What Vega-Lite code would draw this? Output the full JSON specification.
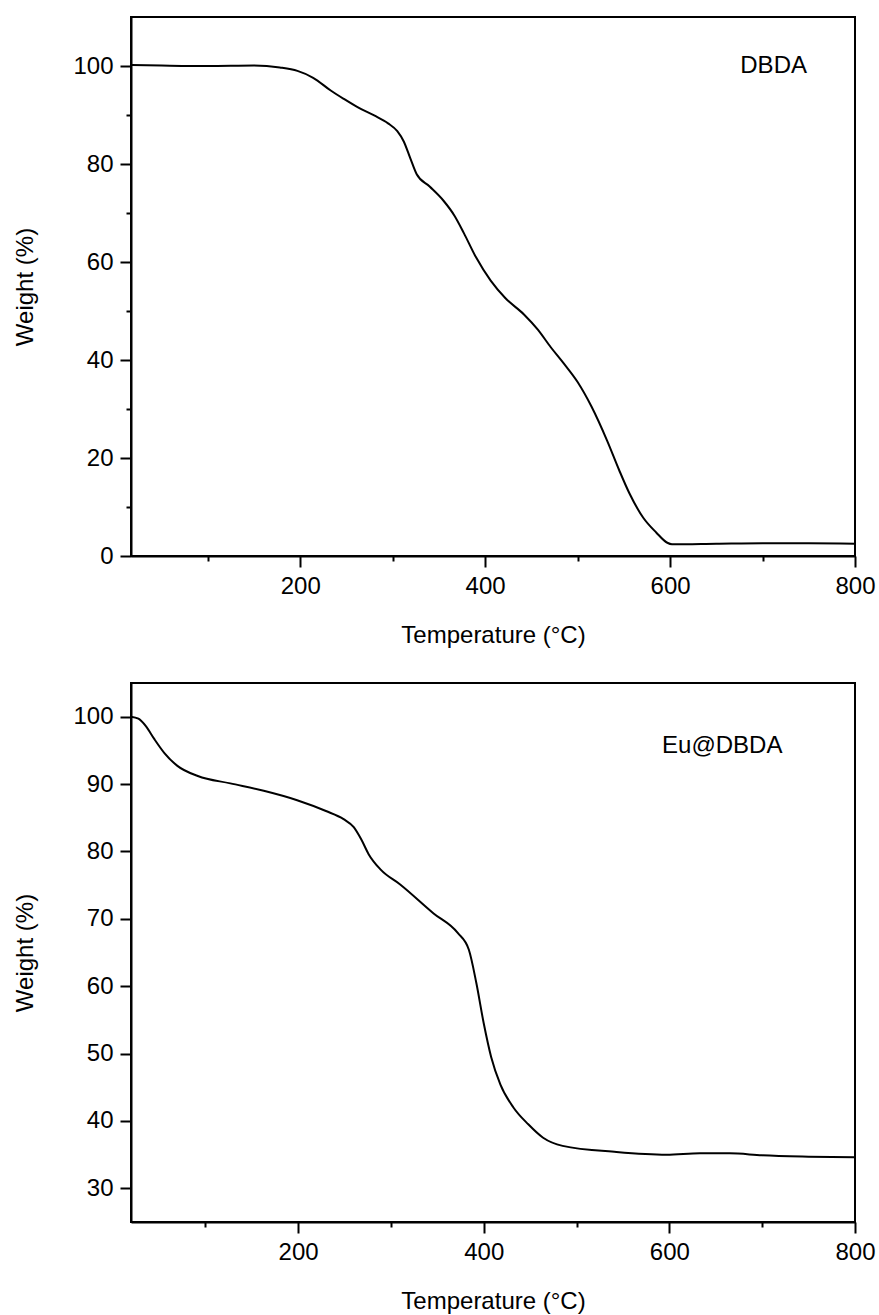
{
  "$schema": "https://vega.github.io/schema/vega-lite/v6.json",
  "padding": {"left": 12, "top": 16, "right": 5, "bottom": 0},
  "spacing": 34,
  "datasets": {
    "dbda": [
      {"T": 17, "W": 100.2}, {"T": 50, "W": 100.1}, {"T": 100, "W": 100.0}, {"T": 150, "W": 100.1},
      {"T": 178, "W": 99.7}, {"T": 197, "W": 99.0}, {"T": 214, "W": 97.6}, {"T": 233, "W": 95.0},
      {"T": 247, "W": 93.3}, {"T": 262, "W": 91.6}, {"T": 280, "W": 89.9}, {"T": 295, "W": 88.3},
      {"T": 305, "W": 86.7}, {"T": 312, "W": 84.6}, {"T": 319, "W": 81.2}, {"T": 326, "W": 77.9},
      {"T": 340, "W": 75.4}, {"T": 355, "W": 72.5}, {"T": 367, "W": 69.4}, {"T": 377, "W": 65.9},
      {"T": 390, "W": 61.0}, {"T": 406, "W": 56.2}, {"T": 422, "W": 52.6}, {"T": 442, "W": 49.3},
      {"T": 457, "W": 46.2}, {"T": 471, "W": 42.6}, {"T": 485, "W": 39.3}, {"T": 500, "W": 35.5},
      {"T": 515, "W": 30.5}, {"T": 532, "W": 23.5}, {"T": 545, "W": 17.5}, {"T": 556, "W": 12.8},
      {"T": 571, "W": 7.8}, {"T": 585, "W": 4.8}, {"T": 597, "W": 2.7}, {"T": 602, "W": 2.4},
      {"T": 650, "W": 2.5}, {"T": 700, "W": 2.6}, {"T": 750, "W": 2.6}, {"T": 800, "W": 2.5}
    ],
    "eu": [
      {"T": 20, "W": 100.0}, {"T": 28, "W": 99.7}, {"T": 36, "W": 98.6}, {"T": 45, "W": 96.7},
      {"T": 56, "W": 94.6}, {"T": 70, "W": 92.7}, {"T": 92, "W": 91.2}, {"T": 127, "W": 90.1},
      {"T": 163, "W": 89.0}, {"T": 199, "W": 87.6}, {"T": 230, "W": 86.0}, {"T": 249, "W": 84.8},
      {"T": 260, "W": 83.6}, {"T": 268, "W": 81.8}, {"T": 276, "W": 79.6}, {"T": 289, "W": 77.3},
      {"T": 310, "W": 75.1}, {"T": 346, "W": 70.8}, {"T": 372, "W": 67.9}, {"T": 384, "W": 65.4},
      {"T": 392, "W": 60.5}, {"T": 400, "W": 54.5}, {"T": 408, "W": 49.5}, {"T": 418, "W": 45.4},
      {"T": 432, "W": 42.0}, {"T": 448, "W": 39.5}, {"T": 464, "W": 37.5}, {"T": 485, "W": 36.3},
      {"T": 543, "W": 35.4}, {"T": 597, "W": 35.0}, {"T": 633, "W": 35.2}, {"T": 665, "W": 35.2},
      {"T": 700, "W": 34.9}, {"T": 750, "W": 34.7}, {"T": 800, "W": 34.6}
    ]
  },
  "vconcat": [
    {
      "width": 724,
      "height": 539,
      "layer": [
        {
          "data": {"name": "dbda"},
          "mark": {"type": "line", "color": "black", "strokeWidth": 2, "interpolate": "monotone"},
          "encoding": {
            "x": {
              "field": "T", "type": "quantitative",
              "scale": {"domain": [17, 800], "nice": false, "zero": false},
              "axis": {
                "title": "Temperature (°C)",
                "values": [100, 200, 300, 400, 500, 600, 700, 800],
                "labelExpr": "datum.value % 200 === 0 ? datum.label : ''",
                "tickSize": {"condition": {"test": "datum.value % 200 === 0", "value": 11}, "value": 5},
                "labelPadding": 7, "titlePadding": 25, "labelFlush": false, "labelOverlap": false
              }
            },
            "y": {
              "field": "W", "type": "quantitative",
              "scale": {"domain": [0, 110], "nice": false, "zero": false},
              "axis": {
                "title": "Weight (%)",
                "values": [0, 10, 20, 30, 40, 50, 60, 70, 80, 90, 100],
                "labelExpr": "datum.value % 20 === 0 ? datum.label : ''",
                "tickSize": {"condition": {"test": "datum.value % 20 === 0", "value": 11}, "value": 5},
                "labelPadding": 7, "titlePadding": 35, "labelOverlap": false
              }
            }
          }
        },
        {
          "data": {"values": [{"label": "DBDA"}]},
          "mark": {"type": "text", "fontSize": 24, "font": "Liberation Sans", "align": "center", "baseline": "alphabetic", "color": "black"},
          "encoding": {
            "x": {"datum": 712, "type": "quantitative"},
            "y": {"datum": 98.6, "type": "quantitative"},
            "text": {"field": "label"}
          }
        }
      ]
    },
    {
      "width": 724,
      "height": 539,
      "layer": [
        {
          "data": {"name": "eu"},
          "mark": {"type": "line", "color": "black", "strokeWidth": 2, "interpolate": "monotone"},
          "encoding": {
            "x": {
              "field": "T", "type": "quantitative",
              "scale": {"domain": [20, 800], "nice": false, "zero": false},
              "axis": {
                "title": "Temperature (°C)",
                "values": [100, 200, 300, 400, 500, 600, 700, 800],
                "labelExpr": "datum.value % 200 === 0 ? datum.label : ''",
                "tickSize": {"condition": {"test": "datum.value % 200 === 0", "value": 11}, "value": 5},
                "labelPadding": 7, "titlePadding": 25, "labelFlush": false, "labelOverlap": false
              }
            },
            "y": {
              "field": "W", "type": "quantitative",
              "scale": {"domain": [25, 105], "nice": false, "zero": false},
              "axis": {
                "title": "Weight (%)",
                "values": [30, 35, 40, 45, 50, 55, 60, 65, 70, 75, 80, 85, 90, 95, 100],
                "labelExpr": "datum.value % 10 === 0 ? datum.label : ''",
                "tickSize": {"condition": {"test": "datum.value % 10 === 0", "value": 11}, "value": 5},
                "labelPadding": 7, "titlePadding": 35, "labelOverlap": false
              }
            }
          }
        },
        {
          "data": {"values": [{"label": "Eu@DBDA"}]},
          "mark": {"type": "text", "fontSize": 24, "font": "Liberation Sans", "align": "center", "baseline": "alphabetic", "color": "black"},
          "encoding": {
            "x": {"datum": 657, "type": "quantitative"},
            "y": {"datum": 94.55, "type": "quantitative"},
            "text": {"field": "label"}
          }
        }
      ]
    }
  ],
  "config": {
    "font": "Liberation Sans",
    "view": {"stroke": "black", "strokeWidth": 2},
    "axis": {
      "grid": false,
      "domainColor": "black", "domainWidth": 2,
      "tickColor": "black", "tickWidth": 2,
      "labelFont": "Liberation Sans", "titleFont": "Liberation Sans",
      "labelFontSize": 24, "titleFontSize": 24, "titleFontWeight": "normal",
      "labelColor": "black", "titleColor": "black"
    }
  }
}
